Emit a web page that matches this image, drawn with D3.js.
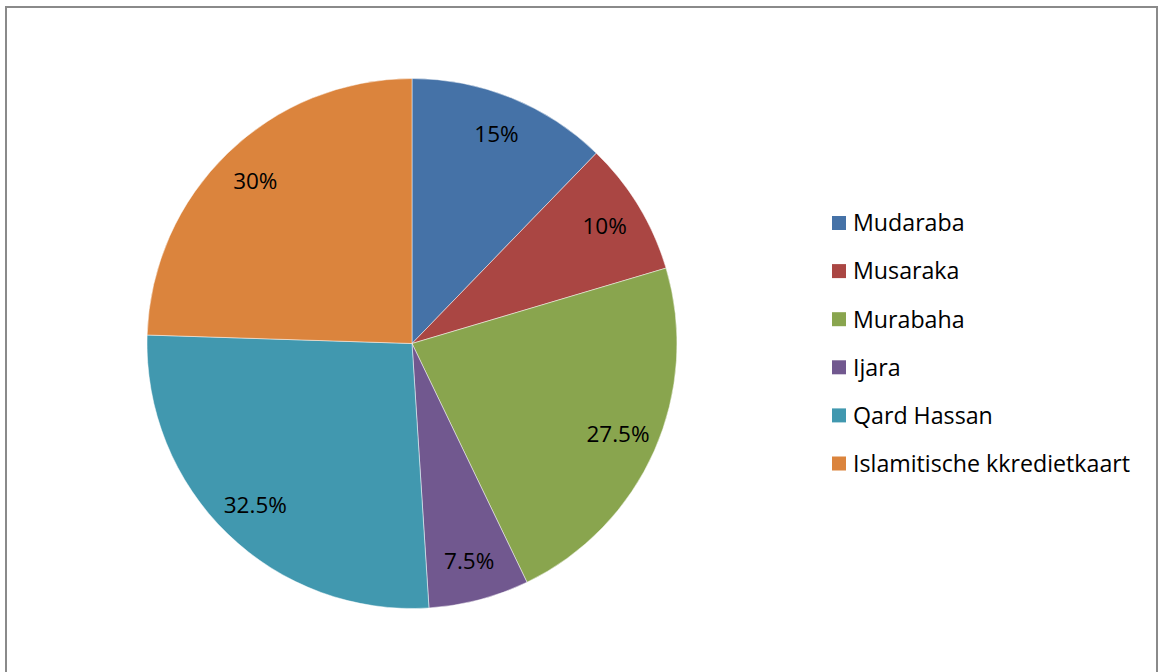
<!DOCTYPE html>
<html>
<head>
<meta charset="utf-8">
<script src="https://cdn.jsdelivr.net/npm/d3@7"></script>
<style>
  html, body { margin: 0; padding: 0; background: #fff; }
  svg { display: block; }
</style>
</head>
<body>
<svg id="chart" width="1159" height="672"></svg>
<script>
// Financing instruments and their shares
const categories = ["Mudaraba", "Musaraka", "Murabaha", "Ijara", "Qard Hassan", "Islamitische kkredietkaart"];
const values = [15, 10, 27.5, 7.5, 32.5, 30];
const valueLabels = ["15%", "10%", "27.5%", "7.5%", "32.5%", "30%"];
const colors = ["#4572A7", "#AA4643", "#89A54E", "#71588F", "#4198AF", "#DB843D"];

const svg = d3.select("#chart");
const font = "'Open Sans', sans-serif";

// outer frame
svg.append("rect")
  .attr("x", 6).attr("y", 7)
  .attr("width", 1151).attr("height", 675)
  .attr("fill", "none")
  .attr("stroke", "#8a8a8a")
  .attr("stroke-width", 2);

const cx = 412, cy = 343.5, r = 265;
const data = categories.map((c, i) => ({ name: c, value: values[i], label: valueLabels[i], color: colors[i] }));

const pie = d3.pie().value(d => d.value).sort(null);
const arc = d3.arc().innerRadius(0).outerRadius(r);
const labelArc = d3.arc().innerRadius(r * 0.85).outerRadius(r * 0.85);

const g = svg.append("g").attr("transform", `translate(${cx},${cy})`);
const arcs = pie(data);

g.selectAll("path.slice")
  .data(arcs)
  .enter().append("path")
  .attr("class", "slice")
  .attr("d", arc)
  .attr("fill", d => d.data.color)
  .attr("stroke", "#ffffff")
  .attr("stroke-opacity", 0.6)
  .attr("stroke-width", 0.8);

// percentage labels; baseline sits ~8px below the label centre
g.selectAll("text.pct")
  .data(arcs)
  .enter().append("text")
  .attr("class", "pct")
  .attr("transform", d => { const [x, y] = labelArc.centroid(d); return `translate(${x},${y})`; })
  .attr("text-anchor", "middle")
  .attr("dy", 7.5)
  .attr("font-family", font)
  .attr("font-size", 22.5)
  .attr("fill", "#000")
  .text(d => d.data.label);

// legend
const legend = svg.append("g").attr("transform", "translate(832,223)");
const rows = legend.selectAll("g.row")
  .data(data)
  .enter().append("g")
  .attr("class", "row")
  .attr("transform", (d, i) => `translate(0,${i * 48.1})`);

rows.append("rect")
  .attr("x", 0).attr("y", -7)
  .attr("width", 14).attr("height", 14)
  .attr("fill", d => d.color);

rows.append("text")
  .attr("x", 21)
  .attr("y", 8.3)
  .attr("font-family", font)
  .attr("font-size", 23.2)
  .attr("fill", "#000")
  .text(d => d.name);
</script>
</body>
</html>
